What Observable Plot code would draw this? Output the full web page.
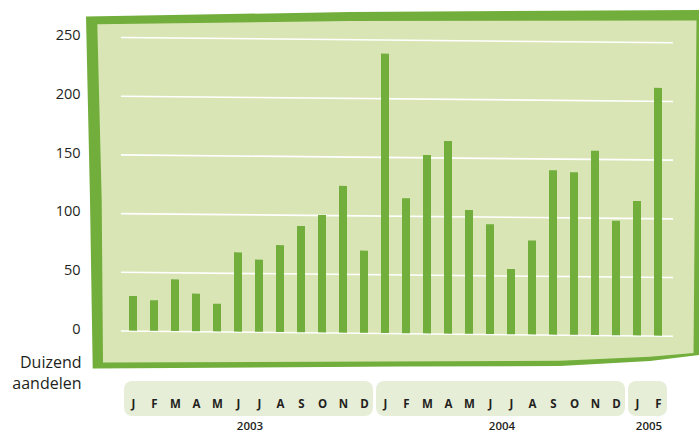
<!DOCTYPE html>
<html><head><meta charset="utf-8">
<script src="https://cdn.jsdelivr.net/npm/d3@7"></script>
<script src="https://cdn.jsdelivr.net/npm/@observablehq/plot@0.6"></script>
<style>body{margin:0;background:#fff}#chart svg{display:block}</style>
</head><body><div id="chart"></div>
<script>
const monthLabels = ["J","F","M","A","M","J","J","A","S","O","N","D","J","F","M","A","M","J","J","A","S","O","N","D","J","F"];
const monthYears = [2003,2003,2003,2003,2003,2003,2003,2003,2003,2003,2003,2003,2004,2004,2004,2004,2004,2004,2004,2004,2004,2004,2004,2004,2005,2005];
const shares = [29.5,26,44,32,23.5,67.5,61.5,74,90.5,100,125,70,238,115,152,164,105.5,93.5,55.5,80,140,138.5,157,97.5,114.5,211];
const yTicks = [0,50,100,150,200,250];
const yearLabels = ["2003","2004","2005"];
const axisTitle = ["Duizend","aandelen"];

const data = shares.map((v,i)=>({key:`${monthYears[i]}-${i}`, month:monthLabels[i], year:String(monthYears[i]), value:v}));
const yearRows = yearLabels.map(y=>{
  const rows = data.filter(d=>d.year===y);
  return {year:y, first:rows[0].key, last:rows[rows.length-1].key, mid:rows[Math.floor((rows.length-1)/2)].key};
});

// decorative tilted panel (not data)
const panelOuter = "M86,16.5 L350,12 L699,10 L699,355 L650,361 L560,366 L400,366.5 L92.7,368.5 L90,200 Z";
const panelInner = "M97.3,24.3 L350,21 L696.5,20.5 L693.5,353 L650,356.7 L560,360.7 L103,362.5 L101.7,200 Z";
const panel = () => {
  const g = d3.create("svg:g");
  g.append("path").attr("d", panelOuter).attr("fill", "#72ae3b");
  g.append("path").attr("d", panelInner).attr("fill", "#dae5b6");
  return g.node();
};

const ink = "#231f20";
const chart = Plot.plot({
  width: 699, height: 434,
  marginLeft: 121, marginRight: 26, marginTop: 0, marginBottom: 0,
  style: {fontFamily: "'Open Sans', sans-serif", background: "transparent", overflow: "visible"},
  x: {type: "band", domain: data.map(d=>d.key), range: [112.8, 677.2], padding: 0.623, axis: null},
  y: {domain: [0,250], range: [330.5, 37], axis: null},
  marks: [
    panel,
    Plot.ruleY(yTicks, {stroke: "#fff", strokeWidth: 1.6}),
    Plot.barY(data, {x: "key", y: "value", fill: "#71ae3b"}),
    Plot.axisY(yTicks, {anchor: "left", tickSize: 0, tickPadding: 41, fontSize: 14.5, dy: -2, color: ink, label: null}),
    Plot.rect(yearRows, {x1: "first", x2: "last", insetLeft: -5, insetRight: -5, insetTop: 381, insetBottom: 18, fill: "#e6eed8", rx: 8}),
    Plot.text(data, {x: "key", text: "month", frameAnchor: "top", dy: 399, fontWeight: "bold", fontSize: 11.5, fill: ink}),
    Plot.text(yearRows, {x: "mid", text: "year", frameAnchor: "top", lineAnchor: "top", dy: 421.5, dx: 11.5, fontSize: 11.5, fontWeight: 600, fill: ink}),
    Plot.text([axisTitle.join("\n")], {text: d=>d, frameAnchor: "top-left", textAnchor: "end", lineAnchor: "top", dx: -40, dy: 352.5, fontSize: 16, lineHeight: 1.3, fill: ink})
  ]
});

const k = 0.0095, x0 = 121;
for (const label of ["rule","bar"]) {
  const g = chart.querySelector(`g[aria-label='${label}']`);
  if (!g) continue;
  const wrap = document.createElementNS("http://www.w3.org/2000/svg","g");
  wrap.setAttribute("transform", `matrix(1,${k},0,1,0,${-k*x0})`);
  g.parentNode.insertBefore(wrap, g);
  wrap.appendChild(g);
}
document.getElementById("chart").appendChild(chart);
</script>
</body></html>
